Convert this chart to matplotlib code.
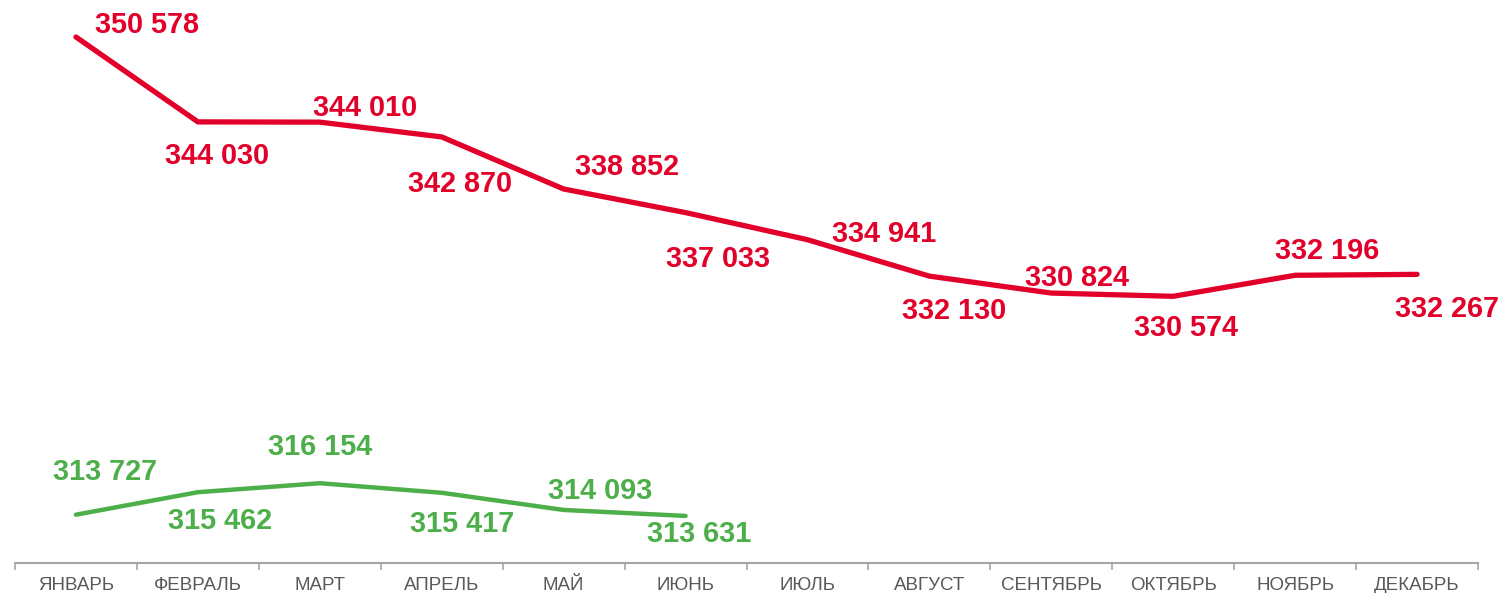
import matplotlib.pyplot as plt
import numpy as np

plt.rcParams['font.family'] = ['Liberation Sans', 'DejaVu Sans']

months = ['ЯНВАРЬ', 'ФЕВРАЛЬ', 'МАРТ', 'АПРЕЛЬ', 'МАЙ', 'ИЮНЬ',
          'ИЮЛЬ', 'АВГУСТ', 'СЕНТЯБРЬ', 'ОКТЯБРЬ', 'НОЯБРЬ', 'ДЕКАБРЬ']
red_vals = [350578, 344030, 344010, 342870, 338852, 337033,
            334941, 332130, 330824, 330574, 332196, 332267]
green_vals = [313727, 315462, 316154, 315417, 314093, 313631]

# label offsets in pixels (dx, dy), positive dy = up
red_off = [(71, 12), (19, -34), (45, 14), (18, -47), (63, 22), (32, -46),
           (77, 6), (25, -35), (26, 15), (13, -32), (32, 24), (30, -35)]
green_off = [(29, 43), (22, -29), (0, 36), (20, -31), (36, 19), (14, -18)]

RED = '#E2002B'
GREEN = '#4DAF4A'
GRAY = '#A6A6A6'

fig = plt.figure(figsize=(15.06, 5.93), dpi=100)
ax = fig.add_axes([15 / 1506, 30 / 593, 1463 / 1506, 526 / 593])

x = np.arange(len(months))
ax.plot(x, red_vals, color=RED, lw=3.8, solid_capstyle='round', clip_on=False)
ax.plot(x[:len(green_vals)], green_vals, color=GREEN, lw=3.2,
        solid_capstyle='round', clip_on=False)

def fmt(v):
    return f'{v:,}'.replace(',', ' ')

for xi, v, (dx, dy) in zip(x, red_vals, red_off):
    ax.annotate(fmt(v), (xi, v), xytext=(dx * 0.72, dy * 0.72),
                textcoords='offset points', ha='center', va='center',
                color=RED, fontsize=20.8, fontweight='bold', annotation_clip=False)
for xi, v, (dx, dy) in zip(x, green_vals, green_off):
    ax.annotate(fmt(v), (xi, v), xytext=(dx * 0.72, dy * 0.72),
                textcoords='offset points', ha='center', va='center',
                color=GREEN, fontsize=20.8, fontweight='bold', annotation_clip=False)

ax.set_xlim(-0.5, len(months) - 0.5)
ax.set_ylim(310000, 350578)

for s in ['top', 'right', 'left']:
    ax.spines[s].set_visible(False)
ax.spines['bottom'].set_color(GRAY)
ax.spines['bottom'].set_linewidth(1.5)
ax.set_yticks([])

ax.set_xticks(x)
ax.set_xticklabels(months, fontsize=13.5, color='#595959')
ax.tick_params(axis='x', which='major', length=0, pad=10)
ax.set_xticks(np.arange(-0.5, len(months)), minor=True)
ax.tick_params(axis='x', which='minor', length=5, width=1.2, color=GRAY, direction='out')

fig.savefig('out.png', dpi=100)
